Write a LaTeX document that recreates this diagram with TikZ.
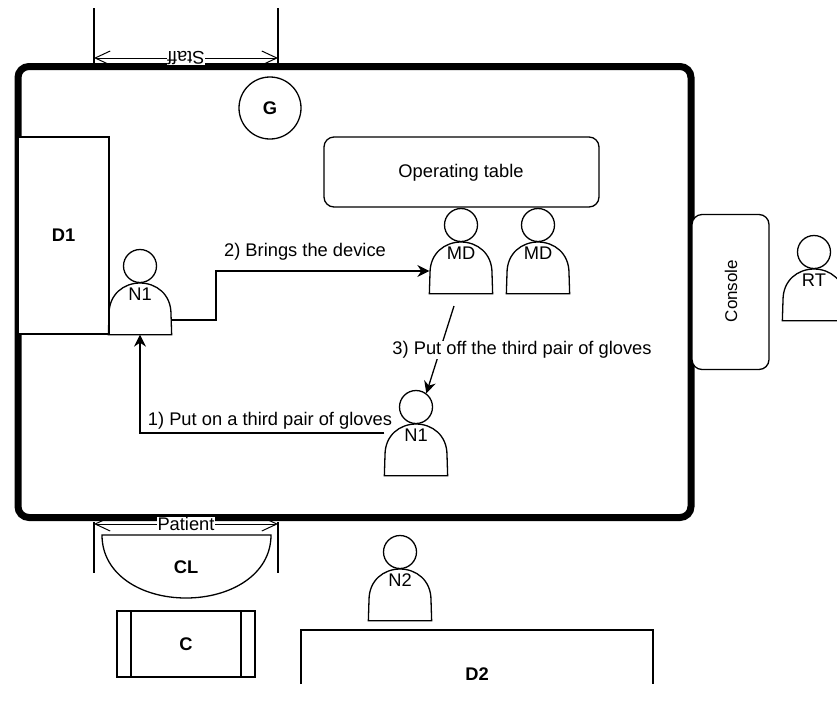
\documentclass[tikz,border=0pt]{standalone}
\usepackage{fontspec}
\setmainfont{Liberation Sans}
\usetikzlibrary{arrows.meta,positioning}

\begin{document}
\begin{tikzpicture}[
    x=1pt, y=-1pt, font=\fontsize{18.3}{22}\selectfont, line width=1.3pt,
    box/.style={draw, minimum width=#1, inner sep=0pt},
    round/.style={draw, rounded corners=10pt, inner sep=0pt},
    lbl/.style={inner sep=1pt},
    arr/.style={-{Stealth[length=12pt,width=12pt]}},
    dim/.style={{Straight Barb[length=15pt,width=14pt]}-{Straight Barb[length=15pt,width=14pt]}},
    person/.pic={
      \node[minimum width=62pt, minimum height=51pt, inner sep=0pt] (-body) at (0,-25.5) {};
      \draw (-body.south west) -- (-body.south east) -- (31,-20)
        .. controls (31,-40) and (16,-51) .. (0,-51)
        .. controls (-16,-51) and (-31,-40) .. (-31,-20) -- cycle;
      \node[draw, circle, minimum size=33pt, inner sep=0pt] (-head) at (0,-68) {};
      \node[lbl] (-name) at (0,-40) {#1};
    }
  ]
    \clip (0,0) rectangle (837,713);

    % room
    \node[draw, line width=7pt, rounded corners=11pt, minimum width=673pt, minimum height=451pt,
          inner sep=0pt] (room) at (354.5,292) {};

    \node[box=91pt, fill=white, minimum height=197pt] (d1) at (63.5,235.5) {\textbf{D1}};
    \node[draw, circle, minimum size=62pt, inner sep=0pt] (g) at (270,108) {\textbf{G}};
    \node[round, minimum width=275pt, minimum height=70pt] (table) at (461.5,172) {};
    \node[lbl] (tabletxt) at (461,173) {Operating table};
    \node[round, fill=white, minimum width=77pt, minimum height=155pt] (console) at (730.5,292) {};
    \node[rotate=90, font=\fontsize{17}{20}\selectfont] (consoletxt) at (731,291) {Console};

    % people
    \pic (nurse) at (140,334) {person={N1}};
    \pic (mdone) at (461,293) {person={MD}};
    \pic (mdtwo) at (538,293) {person={MD}};
    \pic (nursetwo) at (416,475) {person={N1}};
    \pic (ntwo) at (400,620) {person={N2}};
    \pic (rt) at (814,320) {person={RT}};

    % staff and patient sides
    \coordinate (sa) at (94,8);
    \coordinate (sb) at (94,63);
    \coordinate (sc) at (278,8);
    \coordinate (sd) at (278,63);
    \draw (sa) -- (sb);
    \draw (sc) -- (sd);
    \coordinate (sl) at (94,58);
    \coordinate (sr) at (278,58);
    \draw[dim, line width=1pt] (sl) -- node[fill=white, inner sep=0.5pt, rotate=180] (staff) {Staff} (sr);

    \coordinate (pa) at (94,522);
    \coordinate (pb) at (94,573);
    \coordinate (pc) at (278,522);
    \coordinate (pd) at (278,573);
    \draw (pa) -- (pb);
    \draw (pc) -- (pd);
    \coordinate (pl) at (94,524);
    \coordinate (pr) at (278,524);
    \draw[dim, line width=1pt] (pl) -- node[fill=white, inner sep=0.5pt] (patient) {Patient} (pr);

    % clinic side
    \draw (102,535) -- (271,535) .. controls (271,575) and (230,598) .. (186,598)
      .. controls (142,598) and (102,575) .. (102,535) -- cycle;
    \node (cl) at (186,567) {\textbf{CL}};
    \node[box=138pt, minimum height=66pt] (c) at (186,644) {\textbf{C}};
    \draw (131,611) -- (131,677);
    \draw (241,611) -- (241,677);

    \coordinate (da) at (301,684);
    \coordinate (db) at (301,630);
    \coordinate (dc) at (653,630);
    \coordinate (dd) at (653,684);
    \draw (da) -- (db) -- (dc) -- (dd);
    \node (d2) at (477,674) {\textbf{D2}};

    % steps
    \coordinate (bend) at (216,271);
    \draw[arr] (nurse-body.east |- 0,320) -| (bend) -- (mdone-body.west |- bend);
    \node[lbl] (bring) at (305,252) {2) Brings the device};

    \coordinate (mdout) at (454,306);
    \draw[arr] (mdout) -- (nursetwo-head.53);
    \node[lbl, fill=white, inner ysep=0pt] (off) at (522,350) {3) Put off the third pair of gloves};

    \draw[arr] (nursetwo-body.west |- 0,433) -| (nurse-body.south);
    \node[lbl] (puton) at (270,421) {1) Put on a third pair of gloves};
\end{tikzpicture}
\end{document}
